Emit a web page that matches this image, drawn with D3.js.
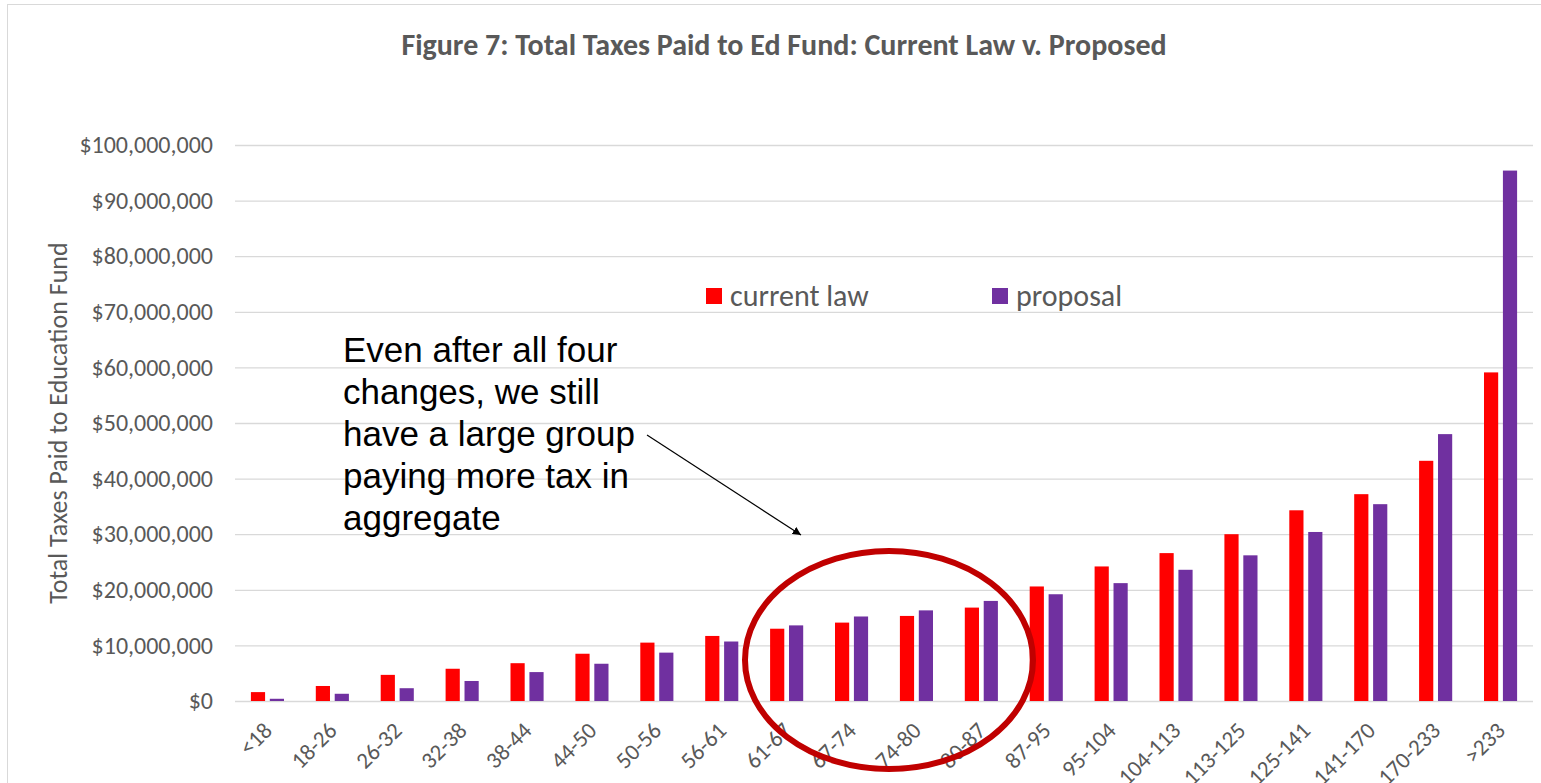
<!DOCTYPE html>
<html>
<head>
<meta charset="utf-8">
<script src="https://cdn.jsdelivr.net/npm/d3@7"></script>
<style>
  body { margin: 0; background: #fff; }
  .chart text { font-family: Calibri, Carlito, Lato, sans-serif; fill: #595959; }
  .chart text.note { font-family: "Liberation Sans", Arial, sans-serif; fill: #000; }
</style>
</head>
<body>
<div class="chart"></div>
<script>
var svgWidth = 1541;
var svgHeight = 783;

var margin = { top: 145, right: 8, bottom: 82, left: 235 };
var width = 1533 - margin.left;
var height = 701 - margin.top;

// data
var brackets = ["<18", "18-26", "26-32", "32-38", "38-44", "44-50", "50-56", "56-61", "61-67", "67-74",
  "74-80", "80-87", "87-95", "95-104", "104-113", "113-125", "125-141", "141-170", "170-233", ">233"];
var currentLaw = [1.6, 2.7, 4.7, 5.8, 6.8, 8.5, 10.5, 11.7, 13.0, 14.1,
  15.3, 16.8, 20.6, 24.2, 26.6, 30.0, 34.3, 37.2, 43.2, 59.1].map(d => d * 1e6);
var proposal = [0.4, 1.3, 2.3, 3.6, 5.2, 6.7, 8.7, 10.7, 13.6, 15.2,
  16.3, 18.0, 19.2, 21.2, 23.6, 26.2, 30.4, 35.4, 48.0, 95.4].map(d => d * 1e6);
var yTicks = [0, 10e6, 20e6, 30e6, 40e6, 50e6, 60e6, 70e6, 80e6, 90e6, 100e6];
var seriesNames = ["current law", "proposal"];
var seriesColors = ["#ff0000", "#7030a0"];

var svg = d3.select(".chart")
  .append("svg")
  .attr("width", svgWidth)
  .attr("height", svgHeight);

// chart border
svg.append("rect")
  .attr("x", 7.5).attr("y", 4.5)
  .attr("width", 1540).attr("height", 790)
  .attr("fill", "none")
  .attr("stroke", "#d9d9d9");

var chartGroup = svg.append("g")
  .attr("transform", `translate(${margin.left}, ${margin.top})`);

// scales
var x0 = d3.scaleBand()
  .domain(brackets)
  .range([0, width])
  .paddingInner(0.49)
  .paddingOuter(0.245);

var x1 = d3.scaleBand()
  .domain(seriesNames)
  .range([0, x0.bandwidth()])
  .paddingInner(0.25);

var yScale = d3.scaleLinear()
  .domain([0, 100e6])
  .range([height, 0]);

// y axis with gridlines
var leftAxis = d3.axisLeft(yScale)
  .tickValues(yTicks)
  .tickSize(-width)
  .tickPadding(22)
  .tickFormat(d3.format("$,"));

var yAxisG = chartGroup.append("g").call(leftAxis);
yAxisG.select(".domain").remove();
yAxisG.selectAll("line").attr("stroke", "#d9d9d9").attr("stroke-width", 1.3);
yAxisG.selectAll("text").style("font-size", "24px");

// x axis labels, rotated
var bottomAxis = d3.axisBottom(x0).tickSize(0).tickPadding(0);
var xAxisG = chartGroup.append("g")
  .attr("transform", `translate(0, ${height})`)
  .call(bottomAxis);
xAxisG.select(".domain").remove();
xAxisG.selectAll("text")
  .style("font-size", "23px")
  .attr("text-anchor", "end")
  .attr("y", 0)
  .attr("dy", 0)
  .attr("transform", "translate(6, 31) rotate(-45)");

// bars
var rows = brackets.map((b, i) => ({ bracket: b, values: [currentLaw[i], proposal[i]] }));

var groups = chartGroup.selectAll(".group")
  .data(rows)
  .enter()
  .append("g")
  .attr("class", "group")
  .attr("transform", d => `translate(${x0(d.bracket)}, 0)`);

groups.selectAll("rect")
  .data(d => d.values.map((v, j) => ({ key: seriesNames[j], value: v, color: seriesColors[j] })))
  .enter()
  .append("rect")
  .attr("x", d => x1(d.key))
  .attr("y", d => yScale(d.value))
  .attr("width", x1.bandwidth())
  .attr("height", d => height - yScale(d.value))
  .attr("fill", d => d.color);

// title
svg.append("text")
  .attr("x", 784)
  .attr("y", 55)
  .attr("text-anchor", "middle")
  .style("font-size", "30px")
  .style("font-weight", "bold")
  .text("Figure 7: Total Taxes Paid to Ed Fund: Current Law v. Proposed");

// y axis title
svg.append("text")
  .attr("transform", `translate(67, ${margin.top + height / 2}) rotate(-90)`)
  .attr("text-anchor", "middle")
  .style("font-size", "26px")
  .text("Total Taxes Paid to Education Fund");

// legend
var legendX = [706, 992];
var legend = svg.selectAll(".legend")
  .data(seriesNames)
  .enter()
  .append("g")
  .attr("class", "legend")
  .attr("transform", (d, i) => `translate(${legendX[i]}, 288)`);

legend.append("rect")
  .attr("width", 16).attr("height", 16)
  .attr("fill", (d, i) => seriesColors[i]);

legend.append("text")
  .attr("x", 24)
  .attr("y", 18)
  .style("font-size", "30px")
  .text(d => d);

// annotation
var noteLines = ["Even after all four", "changes, we still", "have a large group", "paying more tax in", "aggregate"];
svg.append("text")
  .attr("class", "note")
  .attr("x", 343)
  .attr("y", 362)
  .style("font-size", "35px")
  .selectAll("tspan")
  .data(noteLines)
  .enter()
  .append("tspan")
  .attr("x", 343)
  .attr("dy", (d, i) => i === 0 ? 0 : 42)
  .text(d => d);

svg.append("defs").append("marker")
  .attr("id", "arrow")
  .attr("viewBox", "0 0 10 10")
  .attr("refX", 10).attr("refY", 5)
  .attr("markerWidth", 7).attr("markerHeight", 7)
  .attr("orient", "auto")
  .append("path")
  .attr("d", "M0,0 L10,5 L0,10 z")
  .attr("fill", "#000");

svg.append("line")
  .attr("x1", 647).attr("y1", 435)
  .attr("x2", 801).attr("y2", 535)
  .attr("stroke", "#000")
  .attr("stroke-width", 1.2)
  .attr("marker-end", "url(#arrow)");

// highlight ellipse
svg.append("ellipse")
  .attr("cx", 889).attr("cy", 660)
  .attr("rx", 144).attr("ry", 109)
  .attr("fill", "none")
  .attr("stroke", "#c00000")
  .attr("stroke-width", 6);
</script>
</body>
</html>
